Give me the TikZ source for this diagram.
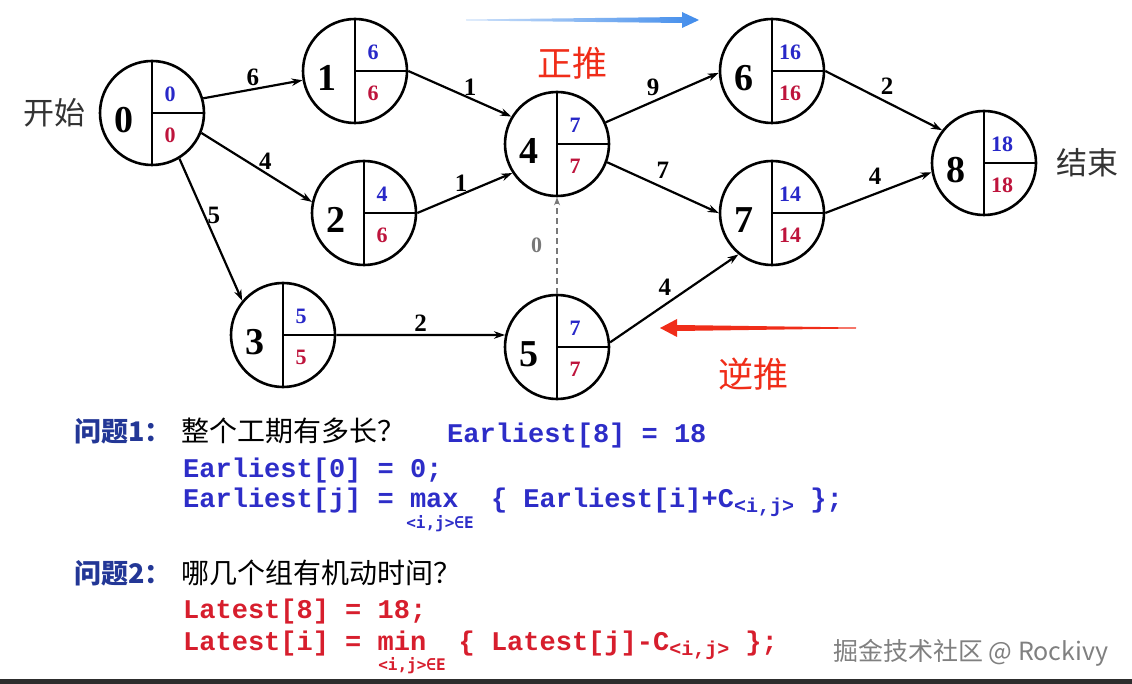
\documentclass[tikz,border=0pt]{standalone}
\usepackage{fontspec}
\setmainfont{Liberation Serif}
\setmonofont{Liberation Mono}
\newfontfamily\cjk{Noto Sans CJK SC}
\newfontfamily\submono{DejaVu Sans Mono}
\usetikzlibrary{arrows.meta,positioning}

\definecolor{earlyblue}{RGB}{40,40,200}
\definecolor{latered}{RGB}{190,20,60}
\definecolor{codeblue}{RGB}{45,45,200}
\definecolor{codered}{RGB}{215,30,45}
\definecolor{qblue}{RGB}{35,55,150}
\definecolor{pushred}{RGB}{240,45,25}
\definecolor{arrowblue}{RGB}{65,140,235}
\definecolor{zerogray}{RGB}{120,120,120}
\definecolor{barcolor}{RGB}{45,45,45}

\begin{document}
\begin{tikzpicture}[
  x=1pt, y=-1pt,
  event/.style={draw, circle, line width=2.6pt, minimum size=104pt, inner sep=0pt,
    path picture={\draw[line width=2.6pt] (path picture bounding box.north) -- (path picture bounding box.south)
      (path picture bounding box.center) -- (path picture bounding box.east);}},
  num/.style={font=\bfseries\fontsize{38}{38}\selectfont, inner sep=0pt},
  early/.style={font=\bfseries\fontsize{22}{22}\selectfont, text=earlyblue, inner sep=0pt},
  late/.style={font=\bfseries\fontsize{22}{22}\selectfont, text=latered, inner sep=0pt},
  edge/.style={-{Stealth[length=11pt,width=7.5pt]}, line width=2.2pt},
  dashedge/.style={-{Stealth[length=8pt,width=6pt]}, line width=1.6pt, draw=zerogray, dash pattern=on 6pt off 4pt},
  lbl/.style={font=\bfseries\fontsize{25}{25}\selectfont, inner sep=2pt},
  word/.style={font=\cjk\fontsize{31}{31}\selectfont, text=black!80, inner sep=0pt},
  push/.style={font=\cjk\fontsize{35}{35}\selectfont, text=pushred, inner sep=0pt},
  tag/.style={font=\cjk\bfseries\fontsize{27}{30}\selectfont, text=qblue, anchor=base west, inner sep=0pt},
  ask/.style={font=\cjk\fontsize{28}{30}\selectfont, anchor=base west, inner sep=0pt},
  code/.style={font=\ttfamily\bfseries\fontsize{27}{30}\selectfont, anchor=base west, inner sep=0pt},
  under/.style={font=\submono\bfseries\fontsize{16}{16}\selectfont, anchor=base, inner sep=0pt},
  wmark/.style={font=\cjk\fontsize{25}{25}\selectfont, text=black!50, anchor=base west, inner sep=0pt},
]
  \useasboundingbox (0,0) rectangle (1132,684);
  \fill[white] (0,0) rectangle (1132,684);

  % Events
  \node[event] (n0) at (152,113) {};
  \node[num] at ([shift={(-28,7)}]n0.center) {0};
  \node[early] at ([shift={(18,-19)}]n0.center) {0};
  \node[late] at ([shift={(18,22)}]n0.center) {0};

  \node[event] (n1) at (355,71) {};
  \node[num] at ([shift={(-28,7)}]n1.center) {1};
  \node[early] at ([shift={(18,-19)}]n1.center) {6};
  \node[late] at ([shift={(18,22)}]n1.center) {6};

  \node[event] (n2) at (364,213) {};
  \node[num] at ([shift={(-28,7)}]n2.center) {2};
  \node[early] at ([shift={(18,-19)}]n2.center) {4};
  \node[late] at ([shift={(18,22)}]n2.center) {6};

  \node[event] (n3) at (283,335) {};
  \node[num] at ([shift={(-28,7)}]n3.center) {3};
  \node[early] at ([shift={(18,-19)}]n3.center) {5};
  \node[late] at ([shift={(18,22)}]n3.center) {5};

  \node[event] (n4) at (557,144) {};
  \node[num] at ([shift={(-28,7)}]n4.center) {4};
  \node[early] at ([shift={(18,-19)}]n4.center) {7};
  \node[late] at ([shift={(18,22)}]n4.center) {7};

  \node[event] (n5) at (557,347) {};
  \node[num] at ([shift={(-28,7)}]n5.center) {5};
  \node[early] at ([shift={(18,-19)}]n5.center) {7};
  \node[late] at ([shift={(18,22)}]n5.center) {7};

  \node[event] (n6) at (772,71) {};
  \node[num] at ([shift={(-28,7)}]n6.center) {6};
  \node[early] at ([shift={(18,-19)}]n6.center) {16};
  \node[late] at ([shift={(18,22)}]n6.center) {16};

  \node[event] (n7) at (772,213) {};
  \node[num] at ([shift={(-28,7)}]n7.center) {7};
  \node[early] at ([shift={(18,-19)}]n7.center) {14};
  \node[late] at ([shift={(18,22)}]n7.center) {14};

  \node[event] (n8) at (984,163) {};
  \node[num] at ([shift={(-28,7)}]n8.center) {8};
  \node[early] at ([shift={(18,-19)}]n8.center) {18};
  \node[late] at ([shift={(18,22)}]n8.center) {18};

  \node[word, left=13pt of n0] (start) {开始};
  \node[word, right=19pt of n8] (finish) {结束};

  % Activities
  \draw[edge] (n0.16) -- node[lbl, above] {6} (n1.190);
  \draw[edge] (n0.-22) -- node[lbl, above, pos=0.58] {4} (n2.168);
  \draw[edge] (n0.-59) -- node[lbl, right, pos=0.4] {5} (n3.140);
  \draw[edge] (n1.east) -- node[lbl, above, pos=0.6] {1} (n4.149);
  \draw[edge] (n2.east) -- node[lbl, above, pos=0.46] {1} (n4.213);
  \draw[edge] (n3.east) -- node[lbl, above] {2} (n5.167);
  \draw[dashedge] (n5.north) -- node[lbl, left=12pt, text=zerogray, font=\bfseries\fontsize{22}{22}\selectfont] {0} (n4.south);
  \draw[edge] (n4.24) -- node[lbl, above=3pt, pos=0.42] {9} (n6.182);
  \draw[edge] (n4.-20) -- node[lbl, above=6pt, pos=0.5] {7} (n7.west);
  \draw[edge] (n5.5) -- node[lbl, above left, pos=0.5] {4} (n7.231);
  \draw[edge] (n6.east) -- node[lbl, above right, pos=0.45] {2} (n8.142);
  \draw[edge] (n7.east) -- node[lbl, above=6pt, pos=0.47] {4} (n8.190);

  % Directions
  \shade[left color=arrowblue!25, right color=arrowblue]
    (466,19.5) -- (682,17) -- (682,12) -- (699,20) -- (682,28) -- (682,23) -- (466,20.5) -- cycle;
  \node[push] (fwd) at (572,63) {正推};
  \fill[pushred]
    (856,327.5) -- (677,325) -- (677,319) -- (660,328) -- (677,337) -- (677,331) -- (856,328.5) -- cycle;
  \node[push] (bwd) at (753,374) {逆推};

  % Questions
  \node[tag] (q1) at (74,441) {问题1：};
  \node[ask] (q1text) at (181,441) {整个工期有多长？};
  \node[code, text=codeblue] (e8) at (447,442) {Earliest[8] = 18};
  \node[code, text=codeblue] (e0) at (183,477) {Earliest[0] = 0;};
  \node[code, text=codeblue] (ej) at (183,507) {Earliest[j] = max\ \ \{ Earliest[i]+C\raisebox{-5pt}{\fontsize{20}{20}\selectfont<i,j>}\ \};};
  \node[under, text=codeblue] (emax) at (440,528) {<i,j>∈E};

  \node[tag] (q2) at (74,583) {问题2：};
  \node[ask] (q2text) at (181,583) {哪几个组有机动时间？};
  \node[code, text=codered] (l8) at (183,618) {Latest[8] = 18;};
  \node[code, text=codered] (li) at (183,650) {Latest[i] = min\ \ \{ Latest[j]-C\raisebox{-5pt}{\fontsize{20}{20}\selectfont<i,j>}\ \};};
  \node[under, text=codered] (lmin) at (412,670) {<i,j>∈E};

  \node[wmark] (credit) at (833,660) {掘金技术社区 @ Rockivy};
  \fill[barcolor] (0,679) rectangle (1132,684);
\end{tikzpicture}
\end{document}
